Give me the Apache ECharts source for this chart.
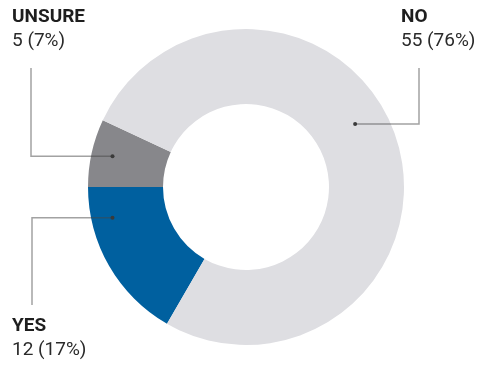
<!DOCTYPE html>
<html>
<head>
<meta charset="utf-8">
<script src="https://cdn.jsdelivr.net/npm/echarts@6/dist/echarts.min.js"></script>
<style>
html,body{margin:0;padding:0;background:#fff;}
#c{width:480px;height:367px;}
</style>
</head>
<body>
<div id="c"></div>
<script>
const categories = ['YES', 'UNSURE', 'NO'];
const values = [12, 5, 55];
const colors = ['#00609f', '#87878b', '#dedee2'];

const CENTER = [246, 187];
const R_IN = 83, R_OUT = 158;
// leader line layout: anchor (polar angle deg, radius), elbow x, end y, label top-left
const leaders = [
  { ang: 193, r: 137, elbowX: 32, endY: 305, lx: 12, ly: 314 },
  { ang: 167, r: 137, elbowX: 31, endY: 68, lx: 12, ly: 5 },
  { ang: 30, r: 126, elbowX: 419, endY: 68, lx: 401, ly: 5 }
];
function anchor(i) {
  const L = leaders[i];
  const a = L.ang * Math.PI / 180;
  return [CENTER[0] + L.r * Math.cos(a), CENTER[1] - L.r * Math.sin(a)];
}

const chart = echarts.init(document.getElementById('c'), null, { renderer: 'canvas' });
const data = categories.map((n, i) => ({ name: n, value: values[i], itemStyle: { color: colors[i] } }));

const graphics = [];
leaders.forEach((L, i) => {
  const A = anchor(i);
  graphics.push({
    type: 'polyline', z: 100,
    shape: { points: [A, [L.elbowX, A[1]], [L.elbowX, L.endY]] },
    style: { stroke: 'rgba(70,70,70,0.5)', lineWidth: 1.5, fill: null }
  });
  graphics.push({ type: 'circle', z: 101, shape: { cx: A[0], cy: A[1], r: 2 }, style: { fill: '#3a3a3a' } });
});

chart.setOption({
  animation: false,
  series: [{
    type: 'pie',
    center: CENTER,
    radius: [R_IN, R_OUT],
    startAngle: 240,
    clockwise: true,
    percentPrecision: 0,
    avoidLabelOverlap: false,
    emphasis: { disabled: true },
    data: data,
    label: {
      show: true,
      formatter: '{n|{b}}\n{v|{c} ({d}%)}',
      rich: {
        n: { fontFamily: 'Roboto', fontWeight: 'bold', fontSize: 19, lineHeight: 24, color: '#1e1e1e' },
        v: { fontFamily: 'Roboto', fontSize: 19, lineHeight: 24, color: '#2a2a2a' }
      }
    },
    labelLine: { show: false },
    labelLayout: function (p) {
      const L = leaders[p.dataIndex];
      return { x: L.lx, y: L.ly, align: 'left', verticalAlign: 'top' };
    }
  }],
  graphic: graphics
});
</script>
</body>
</html>
